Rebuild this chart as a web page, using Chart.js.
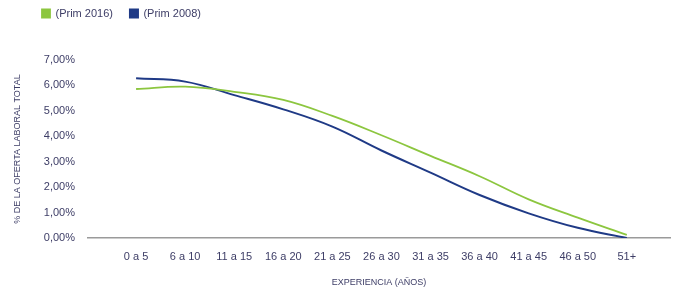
<!DOCTYPE html>
<html>
<head>
<meta charset="utf-8">
<script src="https://cdn.jsdelivr.net/npm/chart.js@4"></script>
<style>
  html, body { margin: 0; padding: 0; background: #fff; }
  #wrap { width: 681px; height: 291px; position: relative; }
</style>
</head>
<body>
<div id="wrap"><canvas id="expChart"></canvas></div>
<script>
const labels = ['0 a 5', '6 a 10', '11 a 15', '16 a 20', '21 a 25', '26 a 30',
  '31 a 35', '36 a 40', '41 a 45', '46 a 50', '51+'];
const prim2016 = [5.86, 5.95, 5.75, 5.43, 4.80, 4.04, 3.23, 2.43, 1.52, 0.80, 0.12];
const prim2008 = [6.28, 6.15, 5.62, 5.06, 4.38, 3.44, 2.57, 1.69, 0.97, 0.40, 0.0];
const yTicks = [0, 1, 2, 3, 4, 5, 6, 7];

const green = '#8cc63f';
const blue = '#1f3a86';
const textColor = '#3d3d66';

const toPoints = arr => arr.map((v, i) => ({ x: i, y: v }));

// legend sits in the top strip, chart area starts lower
const legendPos = {
  id: 'legendPos',
  beforeInit(chart) {
    const fit = chart.legend.fit;
    chart.legend.fit = function () {
      fit.bind(chart.legend)();
      this.height = 60;
    };
  },
  afterLayout(chart) {
    chart.legend.left = 25;
    chart.legend.top = -9;
  }
};

const ctx = document.getElementById('expChart').getContext('2d');

new Chart(ctx, {
  type: 'line',
  data: {
    datasets: [
      {
        label: '(Prim 2016)',
        data: toPoints(prim2016),
        borderColor: green,
        backgroundColor: green,
        borderWidth: 1.8,
        pointRadius: 0,
        tension: 0.4
      },
      {
        label: '(Prim 2008)',
        data: toPoints(prim2008),
        borderColor: blue,
        backgroundColor: blue,
        borderWidth: 2,
        pointRadius: 0,
        tension: 0.4
      }
    ]
  },
  options: {
    responsive: true,
    maintainAspectRatio: false,
    animation: false,
    layout: { padding: { left: 7, right: 11, top: 0, bottom: 0 } },
    plugins: {
      tooltip: { enabled: false },
      legend: {
        position: 'top',
        align: 'start',
        labels: {
          boxWidth: 8,
          boxHeight: 8,
          padding: 17,
          color: textColor,
          font: { family: 'Liberation Sans', size: 11 }
        }
      }
    },
    scales: {
      x: {
        type: 'linear',
        min: -0.98,
        max: 10.88,
        afterBuildTicks: scale => {
          scale.ticks = labels.map((_, i) => ({ value: i }));
        },
        afterFit: scale => { scale.height = 53; },
        grid: { display: false, drawTicks: false },
        border: { display: true, color: '#9a9a9a', width: 1.5 },
        ticks: {
          padding: 12,
          maxRotation: 0,
          autoSkip: false,
          color: textColor,
          font: { family: 'Liberation Sans', size: 11 },
          callback: v => labels[v]
        },
        title: {
          display: true,
          text: 'EXPERIENCIA (AÑOS)',
          color: textColor,
          padding: { top: 0, bottom: 3 },
          font: { family: 'Liberation Sans', size: 9 }
        }
      },
      y: {
        min: 0,
        max: 7,
        afterBuildTicks: scale => {
          scale.ticks = yTicks.map(v => ({ value: v }));
        },
        afterFit: scale => { scale.width = 81; },
        grid: { display: false, drawTicks: false },
        border: { display: false },
        ticks: {
          padding: 13,
          color: textColor,
          font: { family: 'Liberation Sans', size: 11 },
          callback: v => v.toFixed(2).replace('.', ',') + '%'
        },
        title: {
          display: true,
          text: '% DE LA OFERTA LABORAL TOTAL',
          color: textColor,
          padding: { top: 5, bottom: 0 },
          font: { family: 'Liberation Sans', size: 9 }
        }
      }
    }
  },
  plugins: [legendPos]
});
</script>
</body>
</html>
